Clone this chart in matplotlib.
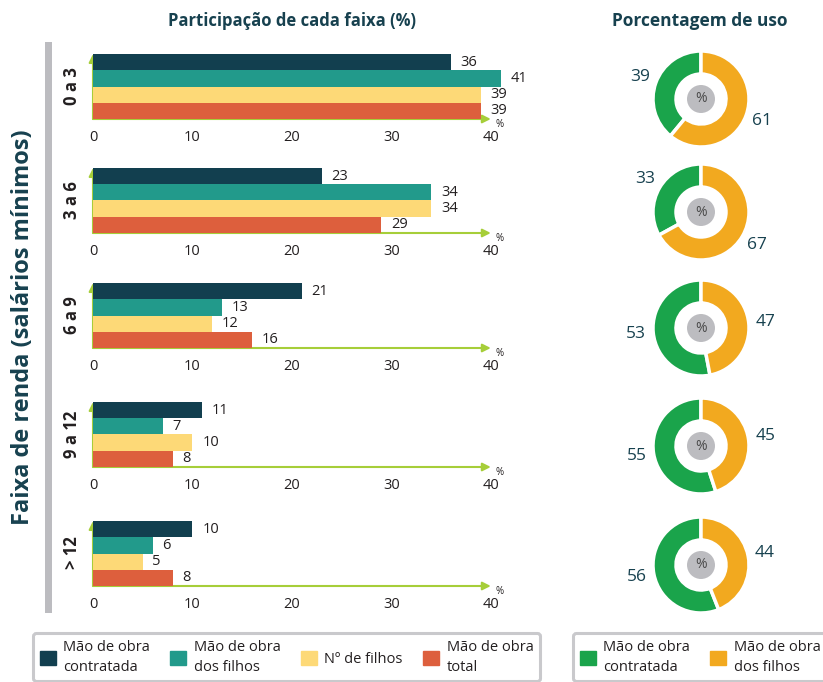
import matplotlib.pyplot as plt
import numpy as np
from matplotlib.patches import Rectangle, Circle, Patch

plt.rcParams['font.family'] = ['Open Sans', 'DejaVu Sans']

## Data ------------------------------------------------------------------------
faixas = ['0 a 3', '3 a 6', '6 a 9', '9 a 12', '> 12']
series = ['Mão de obra\ncontratada', 'Mão de obra\ndos filhos', 'Nº de filhos', 'Mão de obra\ntotal']
mo_contratada = [36, 23, 21, 11, 10]
mo_filhos = [41, 34, 13, 7, 6]
n_filhos = [39, 34, 12, 10, 5]
mo_total = [39, 29, 16, 8, 8]
xticks = [0, 10, 20, 30, 40]

uso_labels = ['Mão de obra\ncontratada', 'Mão de obra\ndos filhos']
uso_contratada = [39, 33, 53, 55, 56]
uso_filhos = [61, 67, 47, 45, 44]

## Styles ----------------------------------------------------------------------
bar_colors = ['#123f4f', '#229a8b', '#fdd977', '#dd5f3d']
pie_colors = ['#1aa44b', '#f2a91f']
lime = '#a6ce39'
dark = '#17414f'
txt = '#231f20'
grey = '#bcbcc0'

W, H = 823, 682
fig = plt.figure(figsize=(W/100, H/100), dpi=100)

def rect(l, t, w, h):
    # pixel box (from top-left) -> figure fraction
    return [l/W, 1-(t+h)/H, w/W, h/H]

## Titles + side labels --------------------------------------------------------
fig.text(292/W, 1-21/H, 'Participação de cada faixa (%)', ha='center', va='center',
         fontsize=12, fontweight='bold', color=dark)
fig.text(700/W, 1-21/H, 'Porcentagem de uso', ha='center', va='center',
         fontsize=12.5, fontweight='bold', color=dark)
fig.text(23/W, 1-327/H, 'Faixa de renda (salários mínimos)', rotation=90, ha='center',
         va='center', fontsize=17, fontweight='bold', color=dark)
fig.add_artist(Rectangle((45/W, 1-613/H), 7/W, 571/H, transform=fig.transFigure,
                         color=grey, lw=0))

## Bar panels ------------------------------------------------------------------
panel_tops = [54, 168, 283, 402, 521]
x0, x1 = 93, 490.8
for i, top in enumerate(panel_tops):
    vals = [mo_contratada[i], mo_filhos[i], n_filhos[i], mo_total[i]]
    ax = fig.add_axes(rect(x0, top, x1-x0, 65))
    ax.barh(range(4), vals, height=1.0, color=bar_colors, zorder=3, clip_on=False)
    ax.set_xlim(0, 40)
    ax.set_ylim(3.5, -0.5)
    for j, v in enumerate(vals):
        ax.annotate(str(v), (v, j), xytext=(7, 0), textcoords='offset points',
                    ha='left', va='center', fontsize=10.5, color=txt, annotation_clip=False)
    ax.annotate('', xy=(40, 3.5), xytext=(0, 3.5), annotation_clip=False, zorder=2,
                arrowprops=dict(arrowstyle='-|>', color=lime, lw=1.5, mutation_scale=12,
                                shrinkA=0, shrinkB=0))
    ax.annotate('', xy=(0, -0.5), xytext=(0, 3.5), annotation_clip=False, zorder=1,
                arrowprops=dict(arrowstyle='-|>', color=lime, lw=1.5, mutation_scale=12,
                                shrinkA=0, shrinkB=0))
    ax.text(40.5, 3.5, '%', fontsize=7, ha='left', va='top', color=txt)
    for s in ax.spines.values():
        s.set_visible(False)
    ax.set_xticks(xticks)
    ax.set_yticks([])
    ax.tick_params(length=0, pad=8, labelsize=10.5, labelcolor=txt)
    fig.text(72/W, 1-(top+32)/H, faixas[i], rotation=90, ha='center', va='center',
             fontsize=12, fontweight='bold', color=txt)

## Donuts ----------------------------------------------------------------------
donut_cy = [99, 212, 328, 446, 565]
cx = 701
for i, cy in enumerate(donut_cy):
    ax = fig.add_axes(rect(cx-70, cy-70, 140, 140))
    wedges, _ = ax.pie([uso_contratada[i], uso_filhos[i]], colors=pie_colors,
                       startangle=90, counterclock=True, radius=48,
                       wedgeprops=dict(width=23, edgecolor='white', linewidth=2.5))
    ax.set_xlim(-70, 70)
    ax.set_ylim(-70, 70)
    ax.set_aspect('equal')
    ax.axis('off')
    ax.add_patch(Circle((0, 0), 14, color=grey, lw=0))
    ax.text(0, 0, '%', ha='center', va='center', fontsize=10, color='#4a4a4a')
    for w, v in zip(wedges, [uso_contratada[i], uso_filhos[i]]):
        ang = np.deg2rad((w.theta1 + w.theta2) / 2)
        ax.text(65*np.cos(ang), 65*np.sin(ang), str(v), ha='center', va='center',
                fontsize=12.5, color=dark)

## Legends ---------------------------------------------------------------------
leg_kw = dict(loc='upper left', mode='expand', frameon=True, fancybox=True, fontsize=10.5,
              handlelength=1.1, handleheight=1.1, handletextpad=0.5, borderpad=0.45,
              borderaxespad=0, labelcolor=txt)
leg1 = fig.legend([Patch(color=c) for c in bar_colors], series, ncol=4,
                  bbox_to_anchor=(33/W, 1-633/H-0.1, 507/W, 0.1), **leg_kw)
leg2 = fig.legend([Patch(color=c) for c in pie_colors], uso_labels, ncol=2,
                  bbox_to_anchor=(573/W, 1-633/H-0.1, 254/W, 0.1), **leg_kw)
for leg in (leg1, leg2):
    leg.get_frame().set_edgecolor(grey)
    leg.get_frame().set_linewidth(2.2)
    for t in leg.get_texts():
        t.set_linespacing(1.45)

fig.savefig('out.png', dpi=100)
